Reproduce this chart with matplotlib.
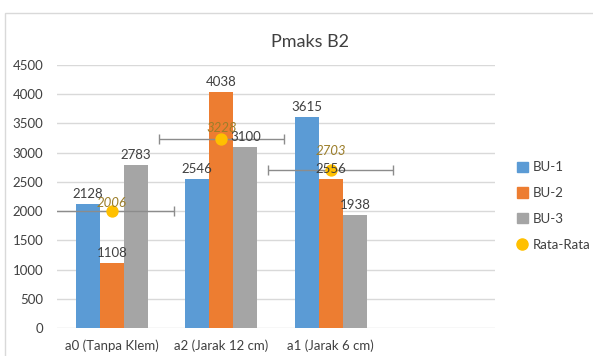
import numpy as np
import matplotlib.pyplot as plt
from matplotlib.lines import Line2D

# data
categories = ['a0 (Tanpa Klem)', 'a2 (Jarak 12 cm)', 'a1 (Jarak 6 cm)']
bu1 = [2128, 2546, 3615]
bu2 = [1108, 4038, 2556]
bu3 = [2783, 3100, 1938]
rata = [2006, 3228, 2703]
series_names = ['BU-1', 'BU-2', 'BU-3']
colors = ['#5B9BD5', '#ED7D31', '#A5A5A5']
# label offsets for the average labels (data units above the point)
rata_label_dy = [68, 130, 256]

plt.rcParams['font.family'] = ['Lato', 'DejaVu Sans']

fig = plt.figure(figsize=(5.93, 3.56), dpi=100)
fig.patches.append(plt.Rectangle((5 / 593, -0.1), 1.2, 1 - 12.5 / 356 + 0.1,
                                 transform=fig.transFigure, fill=False,
                                 edgecolor='#D9D9D9', linewidth=1.0))
ax = fig.add_axes([57 / 593, 1 - 328 / 356, 438 / 593, 263 / 356])

x = np.arange(len(categories))
w = 0.22
for k, (vals, name, c) in enumerate(zip([bu1, bu2, bu3], series_names, colors)):
    pos = x + (k - 1) * w
    ax.bar(pos, vals, width=w, color=c, label=name, zorder=2)
    for px, v in zip(pos, vals):
        ax.text(px, v + 70, str(v), ha='center', va='bottom', fontsize=9.5,
                color='#404040', zorder=5)

ax.errorbar(x, rata, xerr=0.57, fmt='none', ecolor='#8C8C8C', elinewidth=1,
            capsize=3.5, zorder=3, clip_on=True)
ax.scatter(x, rata, s=62, color='#FFC000', zorder=4, label='Rata-Rata')
for px, v, dy in zip(x, rata, rata_label_dy):
    ax.text(px, v + dy, str(v), ha='center', va='baseline', fontsize=9.5,
            style='italic', color='#9C7E2A', zorder=5)

ax.set_xlim(-0.5, 3.5)
ax.set_ylim(0, 4500)
ax.set_yticks(np.arange(0, 4501, 500))
ax.set_xticks(x)
ax.set_xticklabels(categories)
ax.tick_params(axis='both', length=0, labelsize=9.5, colors='#404040')
ax.tick_params(axis='y', pad=10)
ax.tick_params(axis='x', pad=8)
ax.yaxis.grid(True, color='#D9D9D9', linewidth=1)
ax.set_axisbelow(True)
for s in ax.spines.values():
    s.set_visible(False)

fig.text(310 / 593, 1 - 42 / 356, 'Pmaks B2', ha='center', va='center',
         fontsize=13, color='#404040')

handles = [plt.Rectangle((0, 0), 1, 1, color=c) for c in colors]
handles.append(Line2D([], [], marker='o', linestyle='none', color='#FFC000',
                      markersize=8))
fig.legend(handles, series_names + ['Rata-Rata'], loc='center left',
           bbox_to_anchor=(517 / 593, 1 - 206 / 356), frameon=False,
           borderpad=0, borderaxespad=0,
           fontsize=9.5, handlelength=0.8, handleheight=0.8, handletextpad=0.4,
           labelspacing=1.05, labelcolor='#404040')

fig.savefig('out.png', dpi=100)
